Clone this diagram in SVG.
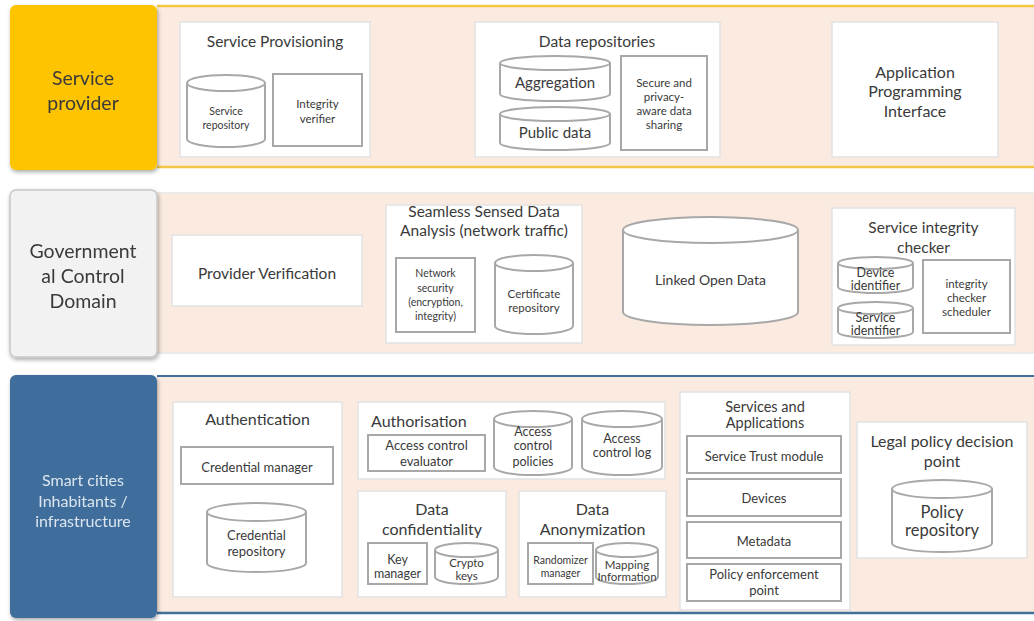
<svg xmlns="http://www.w3.org/2000/svg" width="1034" height="621" viewBox="0 0 1034 621">
  <defs>
    <filter id="shadow" x="-10%" y="-10%" width="125%" height="125%">
      <feGaussianBlur in="SourceAlpha" stdDeviation="2"/>
      <feOffset dx="1" dy="2"/>
      <feComponentTransfer><feFuncA type="linear" slope="0.35"/></feComponentTransfer>
      <feMerge><feMergeNode/><feMergeNode in="SourceGraphic"/></feMerge>
    </filter>
  </defs>
  <style>
    text { font-family: Lato, "Liberation Sans", sans-serif; fill: #3A3A3A; text-anchor: middle; }
    .band { fill: #FBEADF; }
    .box { fill: #FFFFFF; stroke: #E2E2E2; stroke-width: 1.5; }
    .comp { fill: #FFFFFF; stroke: #A8A8A8; stroke-width: 2; }
    .cyl { fill: #FFFFFF; stroke: #A8A8A8; stroke-width: 2; }
    .rim { fill: none; stroke: #A8A8A8; stroke-width: 2; }
    .h { font-size: 15.5px; }
    .m { font-size: 12.5px; }
    .s { font-size: 11.5px; }
    .xs { font-size: 10.5px; }
    .lbl { font-size: 19.5px; }
    .lbl-w { font-size: 16px; fill: #DCE5EF; }
  </style>

  <!-- layer bands -->
  <g id="band-provider">
    <rect class="band" x="157" y="6" width="877" height="161"/>
    <line x1="157" y1="6" x2="1034" y2="6" stroke="#F2C744" stroke-width="2.5"/>
    <line x1="157" y1="167" x2="1034" y2="167" stroke="#F2C744" stroke-width="2.5"/>
  </g>
  <g id="band-government">
    <rect class="band" x="157" y="193" width="877" height="160"/>
    <line x1="157" y1="193" x2="1034" y2="193" stroke="#E6E6E6" stroke-width="1.5"/>
    <line x1="157" y1="353" x2="1034" y2="353" stroke="#E6E6E6" stroke-width="1.5"/>
  </g>
  <g id="band-cities">
    <rect class="band" x="157" y="376" width="877" height="237"/>
    <line x1="157" y1="376" x2="1034" y2="376" stroke="#41709C" stroke-width="2"/>
    <line x1="157" y1="613" x2="1034" y2="613" stroke="#41709C" stroke-width="2.5"/>
  </g>

  <!-- layer labels -->
  <g id="label-provider" filter="url(#shadow)">
    <rect x="10" y="5" width="147" height="165" rx="6" fill="#FFC400"/>
    <text class="lbl" x="83" y="85">Service</text>
    <text class="lbl" x="83" y="110">provider</text>
  </g>
  <g id="label-government" filter="url(#shadow)">
    <rect x="10" y="190" width="147" height="167" rx="6" fill="#F2F2F2" stroke="#C8C8C8" stroke-width="1.5"/>
    <text class="lbl" x="83" y="258">Government</text>
    <text class="lbl" x="83" y="283">al Control</text>
    <text class="lbl" x="83" y="308">Domain</text>
  </g>
  <g id="label-cities" filter="url(#shadow)">
    <rect x="10" y="375" width="147" height="243" rx="6" fill="#3F6E9C"/>
    <text class="lbl-w" x="83" y="486">Smart cities</text>
    <text class="lbl-w" x="83" y="507">Inhabitants /</text>
    <text class="lbl-w" x="83" y="527">infrastructure</text>
  </g>

  <!-- Service provider layer -->
  <g id="service-provisioning">
    <rect class="box" x="180" y="22" width="190" height="135"/>
    <text class="h" x="275" y="47">Service Provisioning</text>
    <path class="cyl" d="M187,83 A39,8 0 0 1 265,83 V139 A39,8 0 0 1 187,139 Z"/>
    <path class="rim" d="M187,83 A39,8 0 0 0 265,83"/>
    <text class="xs" x="226" y="115">Service</text>
    <text class="xs" x="226" y="129">repository</text>
    <rect class="comp" x="273" y="74" width="89" height="72"/>
    <text class="s" x="317.5" y="108">Integrity</text>
    <text class="s" x="317.5" y="123">verifier</text>
  </g>
  <g id="data-repositories">
    <rect class="box" x="475" y="22" width="245" height="135"/>
    <text class="h" x="597" y="47">Data repositories</text>
    <path class="cyl" d="M500,63 A55,7 0 0 1 610,63 V94 A55,7 0 0 1 500,94 Z"/>
    <path class="rim" d="M500,63 A55,7 0 0 0 610,63"/>
    <text x="555" y="88" font-size="15">Aggregation</text>
    <path class="cyl" d="M500,114 A55,7 0 0 1 610,114 V143 A55,7 0 0 1 500,143 Z"/>
    <path class="rim" d="M500,114 A55,7 0 0 0 610,114"/>
    <text x="555" y="138" font-size="15">Public data</text>
    <rect class="comp" x="621" y="56" width="86" height="94"/>
    <text class="s" x="664" y="87">Secure and</text>
    <text class="s" x="664" y="101">privacy-</text>
    <text class="s" x="664" y="115">aware data</text>
    <text class="s" x="664" y="129">sharing</text>
  </g>
  <g id="api">
    <rect class="box" x="832" y="22" width="166" height="135"/>
    <text x="915" y="78" font-size="16">Application</text>
    <text x="915" y="97" font-size="16">Programming</text>
    <text x="915" y="117" font-size="16">Interface</text>
  </g>

  <!-- Governmental control layer -->
  <g id="provider-verification">
    <rect class="box" x="172" y="235" width="190" height="71"/>
    <text class="h" x="267" y="279">Provider Verification</text>
  </g>
  <g id="sensed-data-analysis">
    <rect class="box" x="386" y="205" width="196" height="138"/>
    <text class="h" x="484" y="217">Seamless Sensed Data</text>
    <text class="h" x="484" y="236">Analysis (network traffic)</text>
    <rect class="comp" x="396" y="258" width="79" height="74"/>
    <text class="xs" x="435.5" y="277">Network</text>
    <text class="xs" x="435.5" y="292">security</text>
    <text class="xs" x="435.5" y="306">(encryption,</text>
    <text class="xs" x="435.5" y="320">integrity)</text>
    <path class="cyl" d="M495,263 A39,8 0 0 1 573,263 V326 A39,8 0 0 1 495,326 Z"/>
    <path class="rim" d="M495,263 A39,8 0 0 0 573,263"/>
    <text class="s" x="534" y="298">Certificate</text>
    <text class="s" x="534" y="312">repository</text>
  </g>
  <g id="linked-open-data">
    <path class="cyl" d="M623,230 A87.5,13 0 0 1 798,230 V312 A87.5,13 0 0 1 623,312 Z"/>
    <path class="rim" d="M623,230 A87.5,13 0 0 0 798,230"/>
    <text x="710.5" y="285" font-size="14">Linked Open Data</text>
  </g>
  <g id="service-integrity-checker">
    <rect class="box" x="832" y="208" width="183" height="137"/>
    <text class="h" x="923.5" y="233">Service integrity</text>
    <text class="h" x="923.5" y="253">checker</text>
    <path class="cyl" d="M838,263 A37.5,6 0 0 1 913,263 V287 A37.5,6 0 0 1 838,287 Z"/>
    <path class="rim" d="M838,263 A37.5,6 0 0 0 913,263"/>
    <text class="m" x="875.5" y="277">Device</text>
    <text class="m" x="875.5" y="290">identifier</text>
    <path class="cyl" d="M838,308 A37.5,6 0 0 1 913,308 V332 A37.5,6 0 0 1 838,332 Z"/>
    <path class="rim" d="M838,308 A37.5,6 0 0 0 913,308"/>
    <text class="m" x="875.5" y="322">Service</text>
    <text class="m" x="875.5" y="335">identifier</text>
    <rect class="comp" x="923" y="260" width="87" height="73"/>
    <text class="s" x="966.5" y="288">integrity</text>
    <text class="s" x="966.5" y="302">checker</text>
    <text class="s" x="966.5" y="316">scheduler</text>
  </g>

  <!-- Smart cities layer -->
  <g id="authentication">
    <rect class="box" x="173" y="402" width="169" height="195"/>
    <text x="257.5" y="425" font-size="16">Authentication</text>
    <rect class="comp" x="181" y="447" width="152" height="37"/>
    <text x="257" y="472" font-size="13">Credential manager</text>
    <path class="cyl" d="M207,512 A49.5,9 0 0 1 306,512 V563 A49.5,9 0 0 1 207,563 Z"/>
    <path class="rim" d="M207,512 A49.5,9 0 0 0 306,512"/>
    <text x="256.5" y="540" font-size="13">Credential</text>
    <text x="256.5" y="556" font-size="13">repository</text>
  </g>
  <g id="authorisation">
    <rect class="box" x="358" y="402" width="307" height="77"/>
    <text x="371" y="427" font-size="16" style="text-anchor:start">Authorisation</text>
    <rect class="comp" x="368" y="435" width="117" height="36"/>
    <text x="426.5" y="450" font-size="13">Access control</text>
    <text x="426.5" y="466" font-size="13">evaluator</text>
    <path class="cyl" d="M494,419 A39,8 0 0 1 572,419 V467 A39,8 0 0 1 494,467 Z"/>
    <path class="rim" d="M494,419 A39,8 0 0 0 572,419"/>
    <text class="m" x="533" y="436">Access</text>
    <text class="m" x="533" y="450">control</text>
    <text class="m" x="533" y="466">policies</text>
    <path class="cyl" d="M582,419 A40,8 0 0 1 662,419 V467 A40,8 0 0 1 582,467 Z"/>
    <path class="rim" d="M582,419 A40,8 0 0 0 662,419"/>
    <text class="m" x="622" y="443">Access</text>
    <text class="m" x="622" y="457">control log</text>
  </g>
  <g id="data-confidentiality">
    <rect class="box" x="358" y="491" width="148" height="106"/>
    <text x="432" y="515" font-size="16">Data</text>
    <text x="432" y="535" font-size="16">confidentiality</text>
    <rect class="comp" x="368" y="543" width="59" height="41"/>
    <text class="m" x="397.5" y="564">Key</text>
    <text class="m" x="397.5" y="578">manager</text>
    <path class="cyl" d="M435,550 A31.5,7 0 0 1 498,550 V577 A31.5,7 0 0 1 435,577 Z"/>
    <path class="rim" d="M435,550 A31.5,7 0 0 0 498,550"/>
    <text class="s" x="466.5" y="567">Crypto</text>
    <text class="s" x="466.5" y="580">keys</text>
  </g>
  <g id="data-anonymization">
    <rect class="box" x="519" y="491" width="147" height="106"/>
    <text x="592.5" y="515" font-size="16">Data</text>
    <text x="592.5" y="535" font-size="16">Anonymization</text>
    <rect class="comp" x="528" y="543" width="65" height="41"/>
    <text x="560.5" y="564" font-size="10.5">Randomizer</text>
    <text x="560.5" y="577" font-size="10.5">manager</text>
    <path class="cyl" d="M596,550 A31,7 0 0 1 658,550 V577 A31,7 0 0 1 596,577 Z"/>
    <path class="rim" d="M596,550 A31,7 0 0 0 658,550"/>
    <text class="s" x="627" y="569">Mapping</text>
    <text class="s" x="627" y="581">Information</text>
  </g>
  <g id="services-applications">
    <rect class="box" x="680" y="392" width="170" height="218"/>
    <text x="765" y="412" font-size="14.5">Services and</text>
    <text x="765" y="428" font-size="14.5">Applications</text>
    <rect class="comp" x="687" y="436" width="154" height="37"/>
    <text x="764" y="461" font-size="13">Service Trust module</text>
    <rect class="comp" x="687" y="479" width="154" height="37"/>
    <text x="764" y="503" font-size="13">Devices</text>
    <rect class="comp" x="687" y="522" width="154" height="36"/>
    <text x="764" y="546" font-size="13">Metadata</text>
    <rect class="comp" x="687" y="564" width="154" height="37"/>
    <text x="764" y="579" font-size="13">Policy enforcement</text>
    <text x="764" y="595" font-size="13">point</text>
  </g>
  <g id="legal-policy-decision-point">
    <rect class="box" x="857" y="422" width="170" height="136"/>
    <text x="942" y="447" font-size="16">Legal policy decision</text>
    <text x="942" y="467" font-size="16">point</text>
    <path class="cyl" d="M892,489 A50,9 0 0 1 992,489 V543 A50,9 0 0 1 892,543 Z"/>
    <path class="rim" d="M892,489 A50,9 0 0 0 992,489"/>
    <text x="942" y="518" font-size="16.5">Policy</text>
    <text x="942" y="536" font-size="16.5">repository</text>
  </g>

  <!-- no connectors in this layered view -->
  <g id="connectors"/>
</svg>
